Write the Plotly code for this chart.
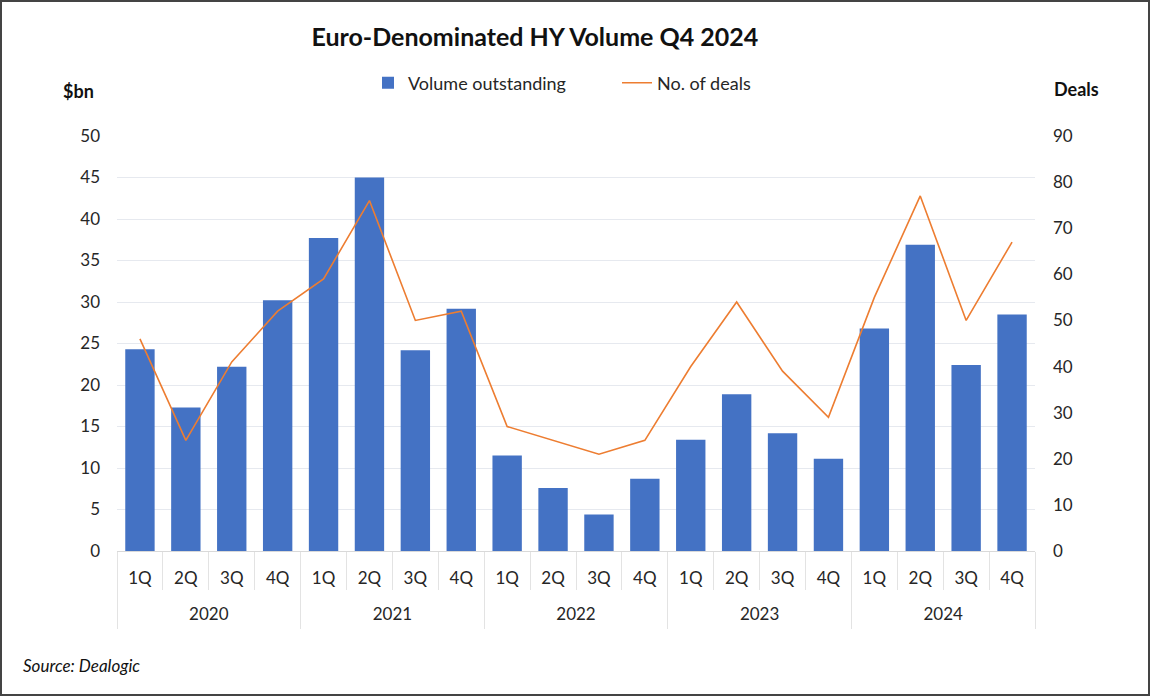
import plotly.graph_objects as go

years = ["2020"] * 4 + ["2021"] * 4 + ["2022"] * 4 + ["2023"] * 4 + ["2024"] * 4
quarters = ["1Q", "2Q", "3Q", "4Q"] * 5
year_labels = ["2020", "2021", "2022", "2023", "2024"]
volume = [24.3, 17.3, 22.2, 30.2, 37.7, 45.0, 24.2, 29.2,
          11.5, 7.6, 4.4, 8.7, 13.4, 18.9, 14.2, 11.1,
          26.8, 36.9, 22.4, 28.5]
deals = [46, 24, 41, 52, 59, 76, 50, 52,
         27, 24, 21, 24, 40, 54, 39, 29,
         55, 77, 50, 67]
left_ticks = list(range(0, 51, 5))
right_ticks = list(range(0, 91, 10))

keys = [f"{y} {q}" for y, q in zip(years, quarters)]

FONT = "Lato"
W, H = 1150, 696
L, R, T, B = 117, 115, 136, 145
pw, ph = W - L - R, H - T - B

def px(x):
    return (x - L) / pw

def py(y):
    return (H - B - y) / ph

TXT = "#262626"
DIV = "#e3e3e3"

fig = go.Figure()
fig.add_trace(go.Bar(
    x=keys, y=volume, name="Volume outstanding",
    marker=dict(color="#4472C4", line=dict(width=0)), width=0.64,
))
fig.add_trace(go.Scatter(
    x=keys, y=deals, name="No. of deals", yaxis="y2",
    mode="lines", line=dict(color="#ED7D31", width=1.6),
))
# carrier for the year-level axis
fig.add_trace(go.Scatter(
    x=year_labels, y=[None] * len(year_labels), xaxis="x2",
    mode="markers", showlegend=False, hoverinfo="skip",
))

fig.update_layout(
    width=W, height=H,
    margin=dict(l=L, r=R, t=T, b=B),
    paper_bgcolor="white", plot_bgcolor="white",
    font=dict(family=FONT, size=17, color=TXT),
    title=dict(text="<b>Euro-Denominated HY Volume Q4 2024</b>",
               x=px(544), xanchor="center", y=1 - 37 / H, yanchor="middle",
               font=dict(size=25, color="#111111")),
    showlegend=True,
    legend=dict(orientation="h", x=px(368), xanchor="left",
                y=py(83), yanchor="middle", font=dict(size=18, color=TXT),
                itemwidth=30, traceorder="normal",
                entrywidth=204, entrywidthmode="pixels"),
    bargap=0.36,
    xaxis=dict(
        type="category", categoryarray=keys, categoryorder="array",
        range=[-0.5, len(keys) - 0.5],
        tickvals=keys, ticktext=quarters,
        showgrid=False, showline=True, linecolor="#d9d9d9", linewidth=1,
        ticks="outside", tickson="boundaries", ticklen=38,
        tickcolor=DIV, ticklabelstandoff=12,
        tickfont=dict(size=17, color=TXT),
    ),
    xaxis2=dict(
        type="category", categoryarray=year_labels, categoryorder="array",
        range=[-0.5, len(year_labels) - 0.5],
        overlaying="x", anchor="y", side="bottom",
        showgrid=False, showline=False, zeroline=False,
        ticks="outside", tickson="boundaries", ticklen=77,
        tickcolor=DIV, ticklabelstandoff=51,
        tickfont=dict(size=17, color=TXT),
    ),
    yaxis=dict(
        range=[0, 50], tickvals=left_ticks, showgrid=True,
        gridcolor="#e6e9ef", gridwidth=1, zeroline=False,
        ticks="", ticklabelstandoff=16,
        tickfont=dict(size=17, color=TXT),
    ),
    yaxis2=dict(
        range=[0, 90], tickvals=right_ticks, overlaying="y", side="right",
        showgrid=False, zeroline=False, ticks="", ticklabelstandoff=17,
        tickfont=dict(size=17, color=TXT),
    ),
    annotations=[
        dict(text="<b>$bn</b>", xref="paper", yref="paper",
             x=px(61), y=py(91), xanchor="left", yanchor="middle",
             showarrow=False, font=dict(size=18, color="#111111")),
        dict(text="<b>Deals</b>", xref="paper", yref="paper",
             x=px(1052), y=py(89), xanchor="left", yanchor="middle",
             showarrow=False, font=dict(size=18, color="#111111")),
        dict(text="<i>Source: Dealogic</i>", xref="paper", yref="paper",
             x=px(21), y=py(665), xanchor="left", yanchor="middle",
             showarrow=False, font=dict(size=17, color="#111111")),
    ],
    shapes=[
        dict(type="rect", xref="paper", yref="paper",
             x0=px(1), x1=px(W - 1), y0=py(1), y1=py(H - 1),
             line=dict(color="#444444", width=2), layer="above"),
    ],
)

fig.write_html(
    "out.html",
    config={"displayModeBar": False},
    post_script="document.body.style.margin='0';document.body.style.overflow='hidden';",
)
